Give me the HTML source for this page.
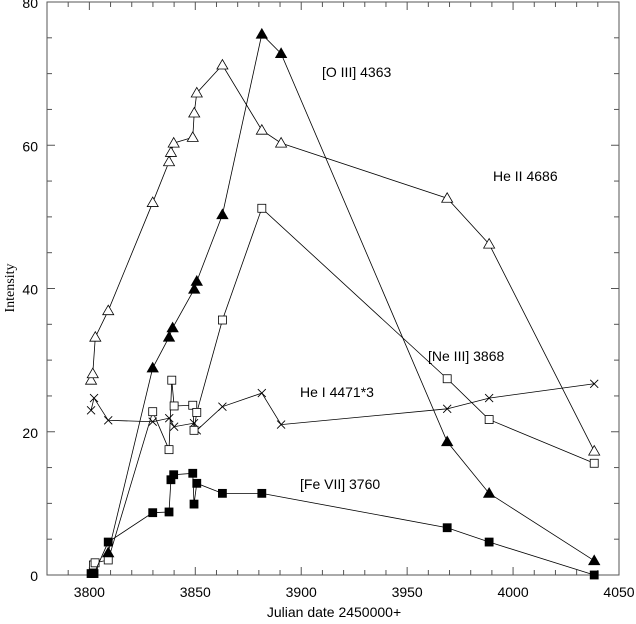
<!DOCTYPE html>
<html><head><meta charset="utf-8"><style>
html,body{margin:0;padding:0;background:#fff;}
svg{display:block;font-family:"Liberation Sans",sans-serif;}
</style></head><body>
<svg id="chart" width="636" height="624" viewBox="0 0 636 624" xmlns="http://www.w3.org/2000/svg">
<g id="axes"></g><g id="series"></g><g id="labels"></g>
</svg>
<script>
const xTicks=[3800,3850,3900,3950,4000,4050];
const yTicks=[0,20,40,60,80];
const heIIx=[3800.8,3801.6,3802.8,3808.9,3829.9,3837.6,3838.5,3839.8,3848.8,3849.5,3850.7,3862.8,3881.4,3890.5,3968.9,3988.7,4038.3];
const heIIy=[27.2,28.1,33.2,36.9,52.0,57.7,59.0,60.3,61.1,64.5,67.3,71.2,62.1,60.3,52.6,46.2,17.3];
const oIIIx=[3808.9,3829.9,3837.6,3839.3,3849.5,3850.7,3862.8,3881.4,3890.5,3968.9,3988.7,4038.3];
const oIIIy=[3.1,28.9,33.2,34.5,39.9,41.0,50.3,75.5,72.8,18.6,11.4,2.0];
const neIIIx=[3801.9,3802.7,3808.9,3829.9,3837.6,3838.9,3840.0,3848.8,3849.4,3850.7,3862.8,3881.4,3968.9,3988.7,4038.3];
const neIIIy=[1.4,1.7,2.1,22.8,17.5,27.2,23.6,23.7,20.2,22.7,35.6,51.2,27.4,21.7,15.6];
const heIx=[3800.8,3802.2,3808.9,3829.9,3837.7,3840.0,3849.4,3850.7,3862.8,3881.4,3890.5,3968.9,3988.7,4038.3];
const heIy=[23.0,24.7,21.6,21.4,21.9,20.7,21.2,20.2,23.5,25.4,21.0,23.2,24.7,26.7];
const feVIIx=[3800.8,3802.2,3808.9,3829.9,3837.6,3838.5,3839.8,3848.8,3849.4,3850.7,3862.8,3881.4,3968.9,3988.7,4038.3];
const feVIIy=[0.2,0.2,4.6,8.7,8.8,13.3,14.0,14.2,9.9,12.8,11.4,11.4,6.6,4.6,0.0];

const NS='http://www.w3.org/2000/svg';
const L=47,R=619,T=2,B=575;
const X0=3780,X1=4050,Y0=0,Y1=80;
function sx(v){return L+(v-X0)/(X1-X0)*(R-L);}
function sy(v){return B-(v-Y0)/(Y1-Y0)*(B-T);}
function mk(tag,attrs,parent){const e=document.createElementNS(NS,tag);for(const k in attrs)e.setAttribute(k,attrs[k]);parent.appendChild(e);return e;}
const axes=document.getElementById('axes');
const frame=mk('rect',{x:L,y:T,width:R-L,height:B-T,fill:'none',stroke:'#555','stroke-width':1},axes);


for(let v=3780;v<=4050;v+=10){
  const major=(v%50===0);const len=major?8:5;const x=sx(v);
  const t1=mk('line',{x1:x,y1:B,x2:x,y2:B-len,stroke:'#555'},axes);
  
  
  const t2=mk('line',{x1:x,y1:T,x2:x,y2:T+len,stroke:'#555'},axes);
  
  
}
for(let v=0;v<=80;v+=5){
  const major=(v%20===0);const len=major?8:5;const y=sy(v);
  const t1=mk('line',{x1:L,y1:y,x2:L+len,y2:y,stroke:'#555'},axes);
  
  
  const t2=mk('line',{x1:R,y1:y,x2:R-len,y2:y,stroke:'#555'},axes);
  
  
}
xTicks.forEach(v=>{
  const t=mk('text',{x:sx(v),y:597,'text-anchor':'middle','font-size':14,fill:'#000'},axes);t.textContent=v;
  
  
});
yTicks.forEach(v=>{
  const t=mk('text',{x:38,y:sy(v)+6,'text-anchor':'end','font-size':14,fill:'#000'},axes);t.textContent=v;
  
  
});
const xt=mk('text',{x:334,y:617,'text-anchor':'middle','font-size':14},axes);xt.textContent='Julian date 2450000+';


const yt=mk('text',{x:14,y:288,'text-anchor':'middle','font-size':14,'font-family':'"Liberation Serif",serif',transform:'rotate(-90 14 288)'},axes);yt.textContent='Intensity';



const series=document.getElementById('series');
function marker(g,type,x,y){
  let e;
  if(type==='tri-open'||type==='tri-fill'){
    e=mk('polygon',{points:`${x},${y-5.5} ${x-5.5},${y+4} ${x+5.5},${y+4}`,fill:type==='tri-fill'?'#000':'#fff',stroke:'#000','stroke-width':0.8},g);
  }else if(type==='sq-open'||type==='sq-fill'){
    e=mk('rect',{x:x-4,y:y-4,width:8,height:8,fill:type==='sq-fill'?'#000':'#fff',stroke:'#000','stroke-width':0.8},g);
  }else{
    e=mk('path',{d:`M${x-4},${y-4}L${x+4},${y+4}M${x-4},${y+4}L${x+4},${y-4}`,stroke:'#000','stroke-width':0.9,fill:'none'},g);
  }
  return e;
}
function drawSeries(name,xs,ys,type){
  const g=mk('g',{},series);
  
  
  const pts=xs.map((v,i)=>sx(v)+','+sy(ys[i])).join(' ');
  const pl=mk('polyline',{points:pts,fill:'none',stroke:'#000','stroke-width':0.8},g);
  
  
  xs.forEach((v,i)=>{
    const m=marker(g,type,sx(v),sy(ys[i]));
    
    
  });
}
drawSeries('he-ii-4686-series',heIIx,heIIy,'tri-open');
drawSeries('he-i-4471-series',heIx,heIy,'cross');
drawSeries('ne-iii-3868-series',neIIIx,neIIIy,'sq-open');
drawSeries('o-iii-4363-series',oIIIx,oIIIy,'tri-fill');
drawSeries('fe-vii-3760-series',feVIIx,feVIIy,'sq-fill');

const labels=document.getElementById('labels');
[['[O III] 4363',322,77,'o-iii-label'],['He II 4686',493,181,'he-ii-label'],['[Ne III] 3868',428,361,'ne-iii-label'],['He I 4471*3',300,397,'he-i-label'],['[Fe VII] 3760',300,489,'fe-vii-label']].forEach(a=>{
  const t=mk('text',{x:a[1],y:a[2],'font-size':14},labels);t.textContent=a[0];
  
  
});
</script>
</body></html>
